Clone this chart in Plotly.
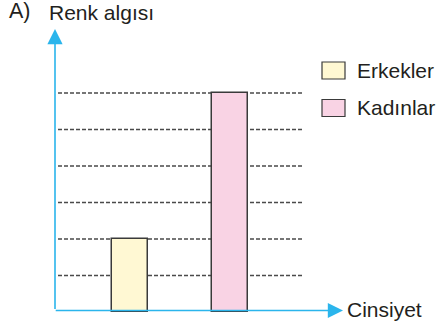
import plotly.graph_objects as go

# Chart data
categories = ["Erkekler", "Kadınlar"]
values = [2, 6]
grid_levels = [1, 2, 3, 4, 5, 6]
title_prefix = "A)"
y_title = "Renk algısı"
x_title = "Cinsiyet"

# Styling
W, H = 440, 329
AXIS_BLUE = "#2bb5ec"
BAR_FILLS = ["#fff8d3", "#f9d3e4"]
EDGE = "#3a3a3a"
DASH = "#4a4a4a"
TEXT = "#231f20"
FONT = "Liberation Sans, Arial, sans-serif"
FS = 21

x_pos = list(range(len(categories)))

fig = go.Figure()

fig.add_trace(go.Bar(
    x=x_pos,
    y=values,
    width=0.365,
    marker=dict(color=BAR_FILLS, line=dict(color=EDGE, width=1.5)),
    showlegend=False,
    hoverinfo="skip",
))

# Dashed reference lines behind the bars
shapes = []
for lv in grid_levels:
    shapes.append(dict(
        type="line", xref="x", yref="y",
        x0=-0.72, x1=1.73, y0=lv, y1=lv,
        line=dict(color=DASH, width=1.5, dash="4px,2px"),
        layer="below",
    ))

# Legend swatches (paper coordinates)
def px_x(p):
    return p / W

def px_y(p):
    return 1 - p / H

legend_rows = [(62, 79), (99.5, 116.5)]
annotations = []
for (top, bot), name, fill in zip(legend_rows, categories, BAR_FILLS):
    shapes.append(dict(
        type="rect", xref="paper", yref="paper",
        x0=px_x(322), x1=px_x(345), y0=px_y(bot), y1=px_y(top),
        fillcolor=fill, line=dict(color=EDGE, width=1.2),
    ))
    annotations.append(dict(
        xref="paper", yref="paper", x=px_x(355), y=px_y((top + bot) / 2),
        xanchor="left", yanchor="middle", text=name, showarrow=False,
        font=dict(family=FONT, size=FS, color=TEXT),
    ))

# Axis arrows
AX_X = -0.75
AX_Y = 0.041
annotations.append(dict(
    x=AX_X, y=7.753, ax=AX_X, ay=AX_Y, xref="x", yref="y", axref="x", ayref="y",
    text="", showarrow=True, arrowhead=2, arrowsize=1.9, arrowwidth=1.6,
    arrowcolor=AXIS_BLUE, standoff=0, startstandoff=0,
))
annotations.append(dict(
    x=2.13, y=AX_Y, ax=AX_X - 0.008, ay=AX_Y, xref="x", yref="y", axref="x", ayref="y",
    text="", showarrow=True, arrowhead=2, arrowsize=1.9, arrowwidth=1.6,
    arrowcolor=AXIS_BLUE, standoff=0, startstandoff=0,
))

# Titles
annotations.append(dict(
    xref="paper", yref="paper", x=px_x(7), y=px_y(11),
    xanchor="left", yanchor="middle", text=title_prefix, showarrow=False,
    font=dict(family=FONT, size=21.5, color=TEXT),
))
annotations.append(dict(
    xref="paper", yref="paper", x=px_x(47), y=px_y(12),
    xanchor="left", yanchor="middle", text=y_title, showarrow=False,
    font=dict(family=FONT, size=FS, color=TEXT),
))
annotations.append(dict(
    xref="paper", yref="paper", x=px_x(345), y=px_y(309),
    xanchor="left", yanchor="middle", text=x_title, showarrow=False,
    font=dict(family=FONT, size=FS, color=TEXT),
))

fig.update_layout(
    width=W, height=H,
    margin=dict(l=0, r=0, t=0, b=0),
    paper_bgcolor="white", plot_bgcolor="white",
    xaxis=dict(range=[-1.30, 3.10], visible=False, fixedrange=True),
    yaxis=dict(range=[-0.466, 8.548], visible=False, fixedrange=True),
    shapes=shapes,
    annotations=annotations,
    bargap=0,
)

fig.write_html("out.html")
